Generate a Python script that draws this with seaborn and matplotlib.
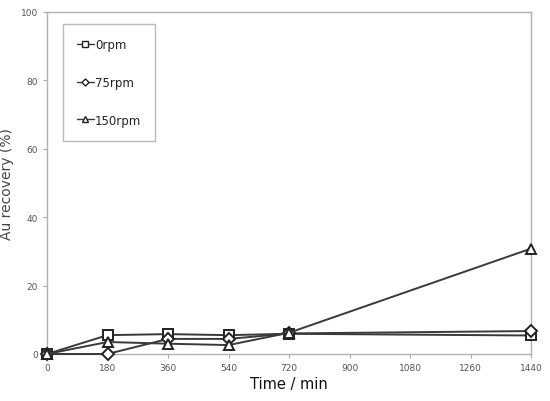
import matplotlib
matplotlib.use('Agg')
import matplotlib.pyplot as plt
import seaborn as sns

# Au recovery vs time for three stirring speeds
times = [0, 180, 360, 540, 720, 1440]
rpm_0 = [0, 5.5, 5.8, 5.5, 5.9, 5.4]
rpm_75 = [0, 0, 4.4, 4.4, 6.0, 6.7]
rpm_150 = [0, 3.5, 3.0, 2.6, 6.2, 30.8]
labels = ['0rpm', '75rpm', '150rpm']
markers = ['s', 'D', '^']

sns.set_style('white')
fig = plt.figure(figsize=(5.5, 4.02), dpi=100)
axes = fig.add_axes([0.0855, 0.117, 0.88, 0.851])

for values, label, marker in zip([rpm_0, rpm_75, rpm_150], labels, markers):
    sns.lineplot(x=times, y=values, ax=axes, label=label, marker=marker,
                 color='#3a3a3a', linewidth=1.4, markersize=7 if marker != 'D' else 6,
                 markerfacecolor='white', markeredgecolor='#222222', markeredgewidth=1.4,
                 clip_on=False, zorder=3)

axes.set_xlim(0, 1440)
axes.set_ylim(0, 100)
axes.set_xticks(range(0, 1441, 180))
axes.set_yticks(range(0, 101, 20))
axes.tick_params(axis='both', labelsize=6.5, labelcolor='#555555', direction='out',
                 length=3, width=0.8, color='#aaaaaa', bottom=True, left=True)
for spine in axes.spines.values():
    spine.set_color('#b0b0b0')
    spine.set_linewidth(1.0)

axes.set_xlabel('Time / min', fontsize=10.5, color='#111111', labelpad=3)
axes.set_ylabel('Au recovery (%)', fontsize=10, color='#444444')
axes.yaxis.set_label_coords(-0.068, 0.5)

legend = axes.legend(loc='upper left', bbox_to_anchor=(0.033, 0.965), fontsize=8.5,
                     labelspacing=2.1, handlelength=1.4, handletextpad=0.1,
                     borderpad=1.2, fancybox=False, frameon=True, borderaxespad=0,
                     markerscale=0.6)
legend.get_frame().set_edgecolor('#aaaaaa')
legend.get_frame().set_linewidth(1.0)
for text in legend.get_texts():
    text.set_color('#222222')
for line in legend.get_lines():
    line.set_linewidth(1.0)
    line.set_markeredgewidth(1.0)

fig.savefig('out.png', dpi=100)
